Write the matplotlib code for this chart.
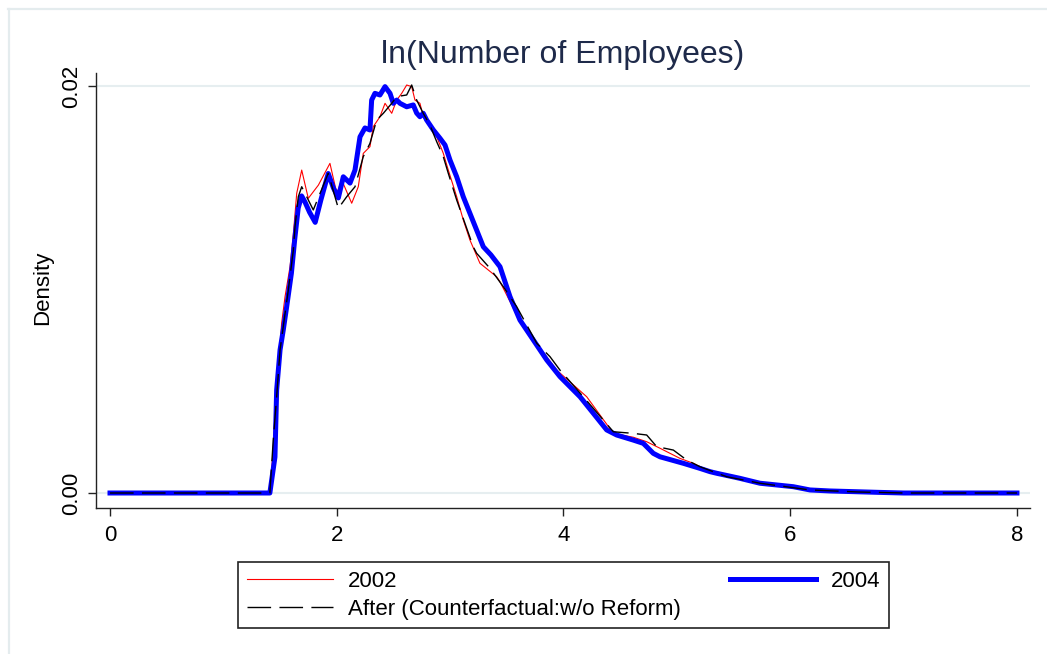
import numpy as np
import matplotlib.pyplot as plt
from matplotlib.lines import Line2D

plt.rcParams['font.family'] = ['Liberation Sans', 'DejaVu Sans']

# kernel density of ln(employees), 2002 sample
x_2002 = [0.0, 1.41, 1.44, 1.47, 1.514, 1.544, 1.588, 1.617, 1.647, 1.691, 1.749, 1.838,
          1.94, 2.0, 2.044, 2.132, 2.19, 2.234, 2.293, 2.322, 2.381, 2.426, 2.485, 2.529,
          2.573, 2.617, 2.661, 2.69, 2.734, 2.763, 2.822, 2.882, 2.94, 2.984, 3.058, 3.116,
          3.175, 3.263, 3.41, 3.44, 3.62, 3.94, 4.205, 4.44, 4.616, 4.734, 4.851, 5.028,
          5.145, 5.292, 5.44, 5.733, 6.174, 6.6, 7.0, 8.0]
d_2002 = [0.0, 0.0, 0.0022, 0.0050, 0.00834, 0.00965, 0.01112, 0.0127, 0.01473, 0.01587,
          0.01448, 0.01513, 0.0162, 0.01473, 0.01538, 0.01424, 0.01505, 0.01669, 0.01702,
          0.0180, 0.01849, 0.01915, 0.01866, 0.01931, 0.01964, 0.02005, 0.01997, 0.01931,
          0.01915, 0.01849, 0.0180, 0.01751, 0.01669, 0.01587, 0.01456, 0.01342, 0.01243,
          0.01129, 0.01063, 0.01038, 0.0084, 0.00604, 0.00473, 0.00293, 0.00274, 0.00252,
          0.0022, 0.0017, 0.00146, 0.00105, 0.0008, 0.00048, 0.00015, 0.00005, 0.0, 0.0]

# 2004 sample
x_2004 = [0.0, 1.41, 1.455, 1.47, 1.50, 1.528, 1.558, 1.60, 1.63, 1.66, 1.69, 1.72, 1.76,
          1.81, 1.86, 1.925, 1.97, 2.014, 2.058, 2.117, 2.161, 2.205, 2.249, 2.293, 2.308,
          2.337, 2.381, 2.426, 2.47, 2.499, 2.529, 2.558, 2.617, 2.675, 2.705, 2.734, 2.763,
          2.793, 2.852, 2.911, 2.955, 2.999, 3.058, 3.116, 3.175, 3.234, 3.293, 3.36, 3.44,
          3.528, 3.616, 3.734, 3.852, 3.969, 4.146, 4.263, 4.381, 4.469, 4.616, 4.704,
          4.792, 4.851, 5.057, 5.204, 5.292, 5.351, 5.557, 5.733, 6.027, 6.174, 6.35, 6.79,
          7.0, 8.0]
d_2004 = [0.0, 0.0, 0.00177, 0.00506, 0.00703, 0.0080, 0.00914, 0.0108, 0.0125, 0.0140,
          0.0146, 0.0143, 0.0138, 0.0133, 0.0144, 0.0157, 0.0150, 0.0145, 0.01554, 0.01523,
          0.01587, 0.0175, 0.01794, 0.01784, 0.01931, 0.01964, 0.01956, 0.01997, 0.01964,
          0.01915, 0.01931, 0.01915, 0.01898, 0.01907, 0.01867, 0.01849, 0.01866, 0.01833,
          0.01784, 0.01743, 0.0171, 0.01636, 0.01554, 0.01456, 0.01374, 0.01292, 0.0121,
          0.0117, 0.01112, 0.00965, 0.0085, 0.00752, 0.00654, 0.00572, 0.00473, 0.00392,
          0.0031, 0.00285, 0.0026, 0.00244, 0.00195, 0.00178, 0.00146, 0.00121, 0.00105,
          0.00097, 0.00072, 0.00048, 0.00031, 0.00015, 0.0001, 0.00003, 0.0, 0.0]

# counterfactual: after, without the reform
x_cf = [0.0, 1.41, 1.44, 1.47, 1.50, 1.528, 1.573, 1.617, 1.632, 1.661, 1.691, 1.793, 1.925,
        2.014, 2.088, 2.161, 2.234, 2.293, 2.352, 2.411, 2.485, 2.529, 2.617, 2.661, 2.705,
        2.763, 2.822, 2.882, 2.94, 2.984, 3.058, 3.131, 3.204, 3.234, 3.352, 3.469, 3.587,
        3.764, 3.881, 3.969, 4.175, 4.44, 4.616, 4.734, 4.822, 4.969, 5.087, 5.204, 5.44,
        5.733, 6.174, 6.6, 7.0, 8.0]
d_cf = [0.0, 0.0, 0.0026, 0.00473, 0.00703, 0.00817, 0.00998, 0.01194, 0.01309, 0.01456,
        0.01505, 0.01391, 0.01571, 0.01399, 0.01456, 0.01505, 0.01653, 0.01718, 0.01833,
        0.01866, 0.01915, 0.01948, 0.01956, 0.02005, 0.01931, 0.01866, 0.01808, 0.01726,
        0.01653, 0.01571, 0.0144, 0.01325, 0.0121, 0.01178, 0.01104, 0.01014, 0.00916,
        0.00736, 0.0067, 0.00604, 0.00473, 0.00301, 0.00293, 0.00285, 0.00228, 0.00211,
        0.00162, 0.00129, 0.0008, 0.00048, 0.00015, 0.00005, 0.0, 0.0]

x_ticks = [0, 2, 4, 6, 8]
y_ticks = [0.0, 0.02]
y_ticklabels = ["0.00", "0.02"]

W, H = 1047, 654
fig = plt.figure(figsize=(W / 100, H / 100), dpi=100)
ax = fig.add_axes([96 / W, 1 - 508 / H, (1030 - 96) / W, (508 - 73) / H])

l02, = ax.plot(x_2002, d_2002, color='#ff0000', lw=0.8, label='2002', zorder=3)
l04, = ax.plot(x_2004, d_2004, color='#0000ff', lw=3.6, label='2004', zorder=4)
lcf, = ax.plot(x_cf, d_cf, color='black', lw=1.0, dashes=(17, 6),
               label='After (Counterfactual:w/o Reform)', zorder=5)

ax.set_xlim(-0.1235, 8.115)
ax.set_ylim(-0.000737, 0.02064)
ax.set_xticks(x_ticks)
ax.set_yticks(y_ticks)
ax.set_yticklabels(y_ticklabels, rotation=90, va='center')
ax.tick_params(axis='x', length=6, width=1, pad=6, labelsize=16, color='#222222')
ax.tick_params(axis='y', length=6, width=1, pad=4, labelsize=16, color='#222222')
ax.grid(axis='y', color='#e6eef0', lw=1.5)
ax.set_axisbelow(True)
for side in ['top', 'right']:
    ax.spines[side].set_visible(False)
for side in ['left', 'bottom']:
    ax.spines[side].set_color('#222222')
    ax.spines[side].set_linewidth(1.0)

ax.set_title('ln(Number of Employees)', fontsize=23, color='#1e2a4a', pad=7)
fig.text(42.5 / W, 1 - 288 / H, 'Density', rotation=90, ha='center', va='center',
         fontsize=16)

leg = fig.legend(handles=[l02, lcf, l04], ncol=2, loc='upper center',
                 bbox_to_anchor=(563.5 / W, 1 - 562 / H), fontsize=16,
                 frameon=True, fancybox=False, framealpha=1, edgecolor='#222222',
                 handlelength=3.9, handletextpad=0.66, columnspacing=2.2,
                 borderpad=0.4, labelspacing=0.3, borderaxespad=0)
leg.get_frame().set_linewidth(1.2)

# faint outer frame along the top and left
fig.add_artist(Line2D([8 / W, 1], [1 - 8.5 / H, 1 - 8.5 / H], color='#e4ecee', lw=1.6))
fig.add_artist(Line2D([8.5 / W, 8.5 / W], [0, 1 - 8.5 / H], color='#e4ecee', lw=1.6))

fig.savefig('out.png', dpi=100)
